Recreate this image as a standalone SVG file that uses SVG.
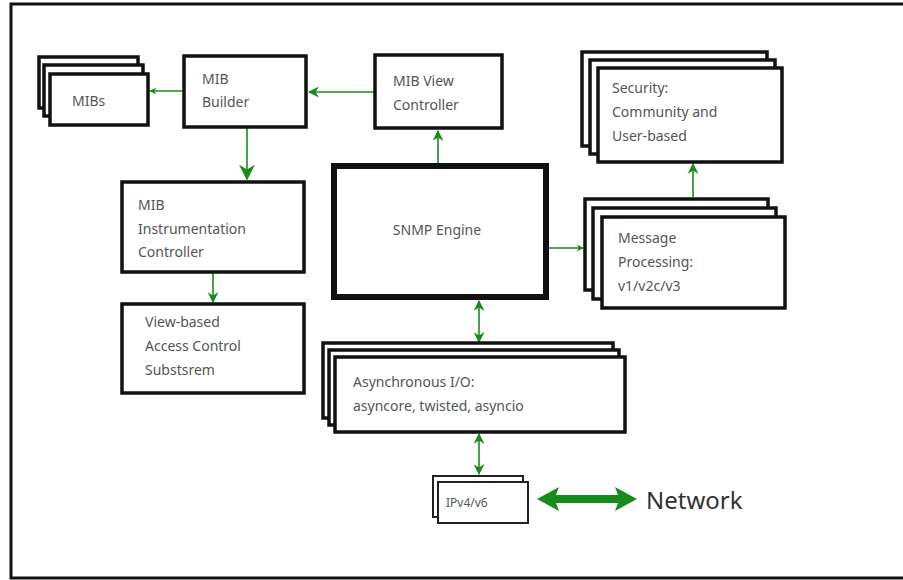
<svg xmlns="http://www.w3.org/2000/svg" width="903" height="580" viewBox="0 0 903 580">
<defs>
<style>
.box{fill:#fff;stroke:#111;stroke-width:3.5}
.thick{fill:#fff;stroke:#111;stroke-width:6}
.thin{fill:#fff;stroke:#222;stroke-width:2}
.t{font-family:"Noto Sans","DejaVu Sans",sans-serif;font-size:14px;fill:#555}
.c{stroke:#1a8a1a;stroke-width:1.6;fill:none}
</style>
<marker id="ah" viewBox="0 0 10 10" refX="9" refY="5" markerWidth="7" markerHeight="7" markerUnits="userSpaceOnUse" orient="auto-start-reverse"><path d="M0,0 L10,5 L0,10 L3,5 Z" fill="#1a8a1a"/></marker>
<marker id="ahb" viewBox="0 0 10 10" refX="9" refY="5" markerWidth="16" markerHeight="16" markerUnits="userSpaceOnUse" orient="auto"><path d="M0,0 L10,5 L0,10 L3,5 Z" fill="#1a8a1a"/></marker>
<marker id="ahm" viewBox="0 0 10 10" refX="9" refY="5" markerWidth="11" markerHeight="11" markerUnits="userSpaceOnUse" orient="auto-start-reverse"><path d="M0,0 L10,5 L0,10 L3,5 Z" fill="#1a8a1a"/></marker>
</defs>
<rect x="0" y="0" width="903" height="580" fill="#fff"/>
<rect x="11" y="4" width="900" height="574" fill="none" stroke="#111" stroke-width="3"/>

<g id="connectors">
<line class="c" x1="183" y1="91" x2="150" y2="91" marker-end="url(#ah)"/>
<line class="c" x1="374" y1="92" x2="309" y2="92" marker-end="url(#ahm)"/>
<line class="c" x1="247" y1="128" x2="247" y2="179" marker-end="url(#ahb)"/>
<line class="c" x1="213" y1="273" x2="213" y2="302" marker-end="url(#ahm)"/>
<line class="c" x1="438" y1="163" x2="438" y2="131" marker-end="url(#ahm)"/>
<line class="c" x1="549" y1="248" x2="583" y2="248" marker-end="url(#ah)"/>
<line class="c" x1="693" y1="197" x2="693" y2="164" marker-end="url(#ahm)"/>
<line class="c" x1="479" y1="301" x2="479" y2="342" marker-start="url(#ahm)" marker-end="url(#ahm)"/>
<line class="c" x1="479" y1="434" x2="479" y2="474" marker-start="url(#ahm)" marker-end="url(#ahm)"/>
<path d="M537,499 L559,487 L556,495 L618,495 L615,487 L637,499 L615,511 L618,503 L556,503 L559,511 Z" fill="#1a8a1a"/>
</g>

<g id="mibs">
<rect class="box" x="39" y="57" width="99" height="51"/>
<rect class="box" x="44" y="65" width="99" height="51"/>
<rect class="box" x="50" y="74" width="98" height="51"/>
<text class="t" x="72" y="106">MIBs</text>
</g>

<g id="mib-builder">
<rect class="box" x="184" y="56" width="122" height="71"/>
<text class="t" x="202" y="84">MIB</text>
<text class="t" x="202" y="107">Builder</text>
</g>

<g id="mib-view-controller">
<rect class="box" x="375" y="55" width="127" height="73"/>
<text class="t" x="393" y="86">MIB View</text>
<text class="t" x="393" y="110">Controller</text>
</g>

<g id="security">
<rect class="box" x="582" y="52" width="185" height="94"/>
<rect class="box" x="590" y="60" width="185" height="94"/>
<rect class="box" x="598" y="68" width="184" height="94"/>
<text class="t" x="612" y="93">Security:</text>
<text class="t" x="612" y="117">Community and</text>
<text class="t" x="612" y="141">User-based</text>
</g>

<g id="mib-instrumentation-controller">
<rect class="box" x="122" y="182" width="182" height="90"/>
<text class="t" x="138" y="210">MIB</text>
<text class="t" x="138" y="234">Instrumentation</text>
<text class="t" x="138" y="257">Controller</text>
</g>

<g id="snmp-engine">
<rect class="thick" x="334" y="166" width="212" height="131"/>
<text class="t" x="437" y="235" text-anchor="middle">SNMP Engine</text>
</g>

<g id="message-processing">
<rect class="box" x="585" y="199" width="183" height="91"/>
<rect class="box" x="593" y="208" width="183" height="91"/>
<rect class="box" x="602" y="217" width="183" height="91"/>
<text class="t" x="618" y="243">Message</text>
<text class="t" x="618" y="267">Processing:</text>
<text class="t" x="618" y="291">v1/v2c/v3</text>
</g>

<g id="view-based-access-control">
<rect class="box" x="122" y="304" width="182" height="89"/>
<text class="t" x="145" y="327">View-based</text>
<text class="t" x="145" y="351">Access Control</text>
<text class="t" x="145" y="375">Substsrem</text>
</g>

<g id="async-io">
<rect class="box" x="323" y="343" width="290" height="75"/>
<rect class="box" x="329" y="350" width="290" height="75"/>
<rect class="box" x="335" y="357" width="290" height="75"/>
<text class="t" x="353" y="387">Asynchronous I/O:</text>
<text class="t" x="353" y="411">asyncore, twisted, asyncio</text>
</g>

<g id="ipv4-v6">
<rect class="thin" x="433" y="476" width="90" height="41"/>
<rect class="thin" x="438" y="482" width="90" height="41"/>
<text class="t" x="446" y="507" style="font-size:12px">IPv4/v6</text>
</g>

<g id="network">
<text x="646" y="509" style="font-family:'Noto Sans','DejaVu Sans',sans-serif;font-size:24px;fill:#333">Network</text>
</g>
</svg>
